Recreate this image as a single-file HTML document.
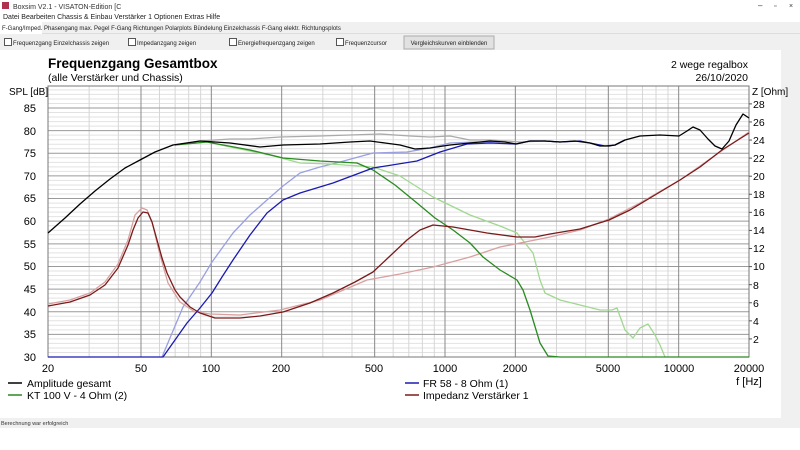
<!DOCTYPE html>
<html><head><meta charset="utf-8"><style>
body{margin:0;width:800px;height:450px;overflow:hidden;background:#fff;font-family:"Liberation Sans",sans-serif;}
svg{display:block}
</style></head><body>
<svg id="s" width="800" height="450" xmlns="http://www.w3.org/2000/svg" font-family="Liberation Sans, sans-serif">
<rect x="0" y="0" width="800" height="450" fill="#fff"/>
<rect x="0" y="22" width="800" height="12" fill="#f0f0f0"/>
<rect x="0" y="34" width="800" height="16" fill="#f0f0f0"/>
<line x1="0" y1="33.5" x2="800" y2="33.5" stroke="#ddd"/>
<rect x="781" y="50" width="19" height="368" fill="#f0f0f0"/>
<rect x="0" y="418" width="800" height="10" fill="#f0f0f0"/>
<rect x="2" y="2" width="7" height="7" fill="#b03050"/>
<text x="13" y="9" font-size="7" fill="#333">Boxsim V2.1 - VISATON-Edition [C</text>
<text x="758" y="8" font-size="8" fill="#333">–</text><text x="774" y="8" font-size="7" fill="#333">▫</text><text x="789" y="8" font-size="7" fill="#333">×</text>
<text x="3" y="19" font-size="7" fill="#222">Datei  Bearbeiten  Chassis &amp; Einbau  Verstärker 1  Optionen  Extras  Hilfe</text>
<rect x="0" y="22" width="42" height="12" fill="#fff"/>
<text x="2" y="30" font-size="6" fill="#222">F-Gang/Imped.   Phasengang   max. Pegel   F-Gang Richtungen   Polarplots   Bündelung   Einzelchassis   F-Gang elektr.   Richtungsplots</text>
<rect x="4.5" y="38.5" width="7" height="7" fill="#fff" stroke="#555"/><text x="13" y="45" font-size="6" fill="#222">Frequenzgang Einzelchassis zeigen</text>
<rect x="128.5" y="38.5" width="7" height="7" fill="#fff" stroke="#555"/><text x="137" y="45" font-size="6" fill="#222">Impedanzgang zeigen</text>
<rect x="229.5" y="38.5" width="7" height="7" fill="#fff" stroke="#555"/><text x="238" y="45" font-size="6" fill="#222">Energiefrequenzgang zeigen</text>
<rect x="336.5" y="38.5" width="7" height="7" fill="#fff" stroke="#555"/><text x="345" y="45" font-size="6" fill="#222">Frequenzcursor</text>
<rect x="404" y="36" width="90" height="13" fill="#e1e1e1" stroke="#adadad"/><text x="449" y="45" font-size="6" fill="#222" text-anchor="middle">Vergleichskurven einblenden</text>
<text x="48" y="68" font-size="13.5" font-weight="bold" fill="#000">Frequenzgang Gesamtbox</text>
<text x="48" y="81" font-size="10.5" fill="#000">(alle Verstärker und Chassis)</text>
<text x="748" y="68" font-size="10.5" fill="#000" text-anchor="end">2 wege regalbox</text>
<text x="748" y="81" font-size="10.5" fill="#000" text-anchor="end">26/10/2020</text>
<text x="9" y="95" font-size="10" fill="#000">SPL [dB]</text>
<text x="752" y="95" font-size="10" fill="#000">Z [Ohm]</text>
<g id="grid"></g>
<g font-size="11" fill="#000" text-anchor="end" id="yl">
<text x="36" y="112">85</text><text x="36" y="135">80</text><text x="36" y="157">75</text><text x="36" y="180">70</text><text x="36" y="202">65</text><text x="36" y="225">60</text><text x="36" y="248">55</text><text x="36" y="270">50</text><text x="36" y="293">45</text><text x="36" y="316">40</text><text x="36" y="338">35</text><text x="36" y="361">30</text>
</g>
<g font-size="10.5" fill="#000" id="zl">
<text x="753" y="108">28</text><text x="753" y="126">26</text><text x="753" y="144">24</text><text x="753" y="162">22</text><text x="753" y="180">20</text><text x="753" y="198">18</text><text x="753" y="216">16</text><text x="753" y="234">14</text><text x="753" y="252">12</text><text x="753" y="270">10</text><text x="753" y="289">8</text><text x="753" y="307">6</text><text x="753" y="325">4</text><text x="753" y="343">2</text>
</g>
<g font-size="11" fill="#000" text-anchor="middle">
<text x="48" y="372">20</text><text x="141" y="372">50</text><text x="211" y="372">100</text><text x="281" y="372">200</text><text x="374" y="372">500</text><text x="445" y="372">1000</text><text x="515" y="372">2000</text><text x="608" y="372">5000</text><text x="679" y="372">10000</text><text x="749" y="372">20000</text>
<text x="749" y="385">f [Hz]</text>
</g>
<g fill="none" stroke-width="1.3" stroke-linejoin="round">
<polyline stroke="#aaa" points="175,145 200,141 230,139 250,139 280,137 320,136 350,135 380,134 410,136 430,137 450,136 470,140 490,140 520,142 545,141 560,142"/>
<polyline stroke="#9aa0e0" points="162,357 183,307 200,282 212,262 233,233 250,215 267,200 283,186 300,173 320,167 340,162 373,153 407,152 430,148 450,143 475,142 500,142"/>
<polyline stroke="#a0d890" points="175,145 207,142 240,149 270,155 300,163 330,164 373,167 400,176 433,197 470,215 500,226 517,233 533,253 540,280 545,293 560,300 580,305 600,310 612,310 617,308 625,330 633,338 640,328 648,324 655,335 660,345 665,357"/>
<polyline stroke="#d8a0a0" points="48,304 70,300 90,293 105,282 118,264 128,240 135,215 142,208 147,210 152,222 160,255 168,283 180,302 195,312 210,314 240,315 280,310 320,300 367,280 400,274 433,267 470,257 500,247 550,237 580,230 609,219 640,203 680,180 720,152 749,132"/>
<polyline stroke="#2a8a20" points="175,145 207,142 250,150 283,158 320,161 357,163 373,170 395,185 417,203 435,218 453,230 470,243 483,257 500,270 517,280 523,290 530,310 540,343 548,356 560,357 749,357"/>
<polyline stroke="#1a1ab0" points="48,357 163,357 175,340 187,323 200,308 212,293 222,277 233,260 250,235 267,213 283,200 300,193 333,183 373,168 417,161 440,152 467,144 490,143 516,144 530,141 545,141 560,142 580,141 590,143 605,146 615,145 625,140"/>
<polyline stroke="#7a1a1a" points="48,306 70,302 90,295 105,285 118,268 128,245 133,230 138,218 143,212 148,213 152,222 157,240 162,258 167,273 175,290 180,297 190,307 200,313 215,318 240,318 260,316 283,312 310,303 333,293 355,282 373,272 390,256 407,240 420,230 433,225 453,227 470,230 487,233 517,237 535,237 550,234 580,229 609,220 630,210 650,198 680,180 700,167 722,150 749,133"/>
<polyline stroke="#000" points="48,233 65,218 80,204 95,191 110,179 125,168 140,160 155,152 173,145 200,141 230,143 260,147 283,145 320,144 350,142 370,141 385,143 400,145 415,149 430,148 450,145 470,143 490,141 505,142 516,144 530,141 545,141 560,142 575,141 590,143 600,146 609,146 615,145 625,140 640,136 660,135 679,136 687,131 693,127 700,130 708,139 715,146 722,149 729,141 736,125 743,114 749,118"/>
</g>
<line x1="8" y1="383" x2="22" y2="383" stroke="#000" stroke-width="1.5"/><text x="27" y="387" font-size="10.5">Amplitude gesamt</text>
<line x1="8" y1="395" x2="22" y2="395" stroke="#2a8a20" stroke-width="1.5"/><text x="27" y="399" font-size="10.5">KT 100 V - 4 Ohm (2)</text>
<line x1="405" y1="383" x2="419" y2="383" stroke="#1a1ab0" stroke-width="1.5"/><text x="423" y="387" font-size="10.5">FR 58 - 8 Ohm (1)</text>
<line x1="405" y1="395" x2="419" y2="395" stroke="#7a1a1a" stroke-width="1.5"/><text x="423" y="399" font-size="10.5">Impedanz Verstärker 1</text>
<text x="1" y="425" font-size="5.5" fill="#333">Berechnung war erfolgreich</text>
</svg>
<script>
var g=document.getElementById('grid'),h='';
function X(f){return 48+233.67*Math.log10(f/20);}
function Y(d){return 357-(d-30)*249/55;}
for(var d=31;d<90;d++){if(d%5==0)continue;var y=Y(d);h+='<line x1="48" x2="749" y1="'+y+'" y2="'+y+'" stroke="#e2e2e2" stroke-width="1"/>';}
var fs=[30,40,60,70,80,90,300,400,600,700,800,900,3000,4000,6000,7000,8000,9000];
fs.forEach(function(f){var x=X(f);h+='<line y1="86" y2="357" x1="'+x+'" x2="'+x+'" stroke="#d6d6d6"/>';});
for(var d=35;d<90;d+=5){var y=Y(d);h+='<line x1="48" x2="749" y1="'+y+'" y2="'+y+'" stroke="#9a9a9a"/>';}
[50,100,200,500,1000,2000,5000,10000].forEach(function(f){var x=X(f);h+='<line y1="86" y2="357" x1="'+x+'" x2="'+x+'" stroke="#8a8a8a"/>';});
h+='<rect x="48" y="86" width="701" height="271" fill="none" stroke="#777"/>';
for(var z=2;z<=28;z+=2){var y=357-z*9.04;h+='<line x1="749" x2="752" y1="'+y+'" y2="'+y+'" stroke="#555"/>';}
g.innerHTML=h;
</script>
</body></html>
